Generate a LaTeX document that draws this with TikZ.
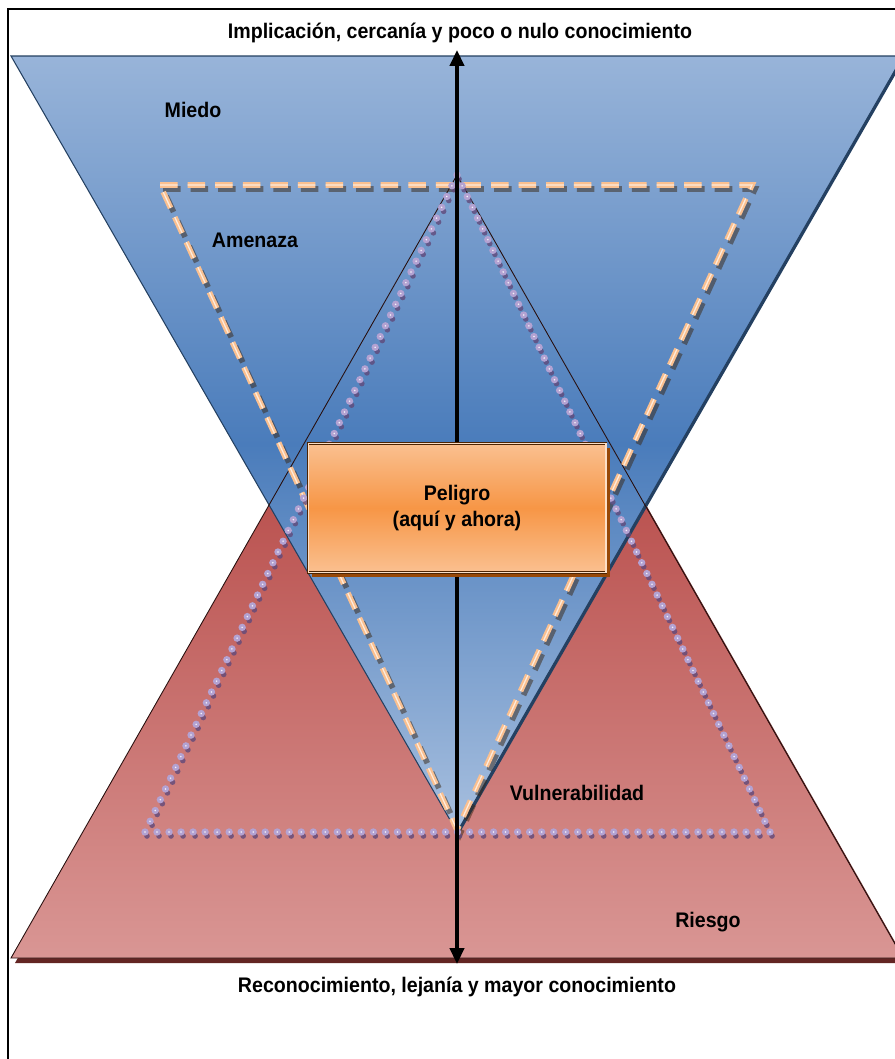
\documentclass[tikz,border=0pt]{standalone}
\usepackage{fontspec}
\setmainfont{Liberation Sans}[FakeStretch=0.93]
\usetikzlibrary{arrows.meta,positioning,shadows,calc}

\definecolor{azulclaro}{RGB}{152,180,217}
\definecolor{azuloscuro}{RGB}{74,124,187}
\definecolor{azulsombra}{RGB}{36,64,97}
\definecolor{rojoarriba}{RGB}{165,35,32}
\definecolor{rojoabajo}{RGB}{217,150,148}
\definecolor{rojosombra}{RGB}{99,37,35}
\definecolor{naranja}{RGB}{250,192,144}
\definecolor{naranjafuerte}{RGB}{247,150,70}
\definecolor{cafe}{RGB}{152,72,7}
\definecolor{lila}{RGB}{179,162,210}
\definecolor{lilasombra}{RGB}{96,73,122}

\tikzset{
  etiqueta/.style={font=\bfseries\fontsize{12}{14}\selectfont, inner sep=0pt},
  guiones/.style={naranja, line width=3.2pt, dash pattern=on 10pt off 5.7pt},
  caja/.style={align=center, minimum width=5.96cm, minimum height=2.58cm,
    top color=naranja, bottom color=naranja, middle color=naranjafuerte,
    draw=cafe!50!black, double=naranja!50!white, double distance=0.6pt,
    drop shadow={shadow xshift=0.08cm, shadow yshift=-0.09cm, fill=cafe, opacity=1}},
}

\begin{document}
\begin{tikzpicture}[x=0.02cm, y=-0.02cm, >=Stealth]
  \useasboundingbox (0,0) rectangle (895,1059);
  \clip (0,0) rectangle (895,1059);

  % Frame
  \draw[line width=0.6pt] (8,9) rectangle (920,1080);

  % Corners of the two big triangles
  \coordinate (rojoA) at (457,175);
  \coordinate (rojoB) at (11,958);
  \coordinate (rojoC) at (903,958);
  \coordinate (azulA) at (11,56);
  \coordinate (azulB) at (903,56);
  \coordinate (azulC) at (457,832);

  % Red triangle (riesgo)
  \fill[rojosombra] ([shift={(4,5)}]rojoA) -- ([shift={(4,5)}]rojoC) -- ([shift={(4,5)}]rojoB) -- cycle;
  \shade[top color=rojoarriba, bottom color=rojoabajo] (rojoA) -- (rojoC) -- (rojoB) -- cycle;

  % Blue triangle (miedo)
  \fill[azulsombra] ([shift={(2,2)}]azulA) -- ([shift={(2,2)}]azulB) -- ([shift={(2,2)}]azulC) -- cycle;
  \shade[top color=azulclaro, bottom color=azulclaro!85!white, middle color=azuloscuro]
    (azulA) -- (azulB) -- (azulC) -- cycle;
  \draw[azulsombra, line width=0.6pt] (azulA) -- (azulB) -- (azulC) -- cycle;
  \draw[rojosombra!40!black, line width=0.5pt] (rojoA) -- (rojoC) -- (rojoB) -- cycle;

  % Dashed triangle (amenaza)
  \begin{scope}[shift={(3,4)}]
    \draw[guiones, black!70!brown, opacity=0.5] (160,185) -- (752,185) -- (457,830) -- cycle;
  \end{scope}
  \draw[guiones] (160,185) -- (752,185) -- (457,830) -- cycle;
  \draw[guiones, naranja!30!white, line width=0.7pt] (160,185) -- (752,185) -- (457,830) -- cycle;

  % Dotted triangle (vulnerabilidad)
  \coordinate (lilaA) at (457,175);
  \coordinate (lilaB) at (770,832);
  \coordinate (lilaC) at (145,832);
  \foreach \p/\q/\n in {lilaA/lilaB/61, lilaB/lilaC/52, lilaC/lilaA/61}
    \foreach \i in {1,...,\n}
      \fill[lilasombra, opacity=0.8] ($(\p)!\i/\n!(\q)+(2,4)$) circle (1.6pt);
  \foreach \p/\q/\n in {lilaA/lilaB/61, lilaB/lilaC/52, lilaC/lilaA/61}
    \foreach \i in {1,...,\n} {
      \fill[lila] ($(\p)!\i/\n!(\q)$) circle (2.1pt);
      \fill[white!85!lila] ($(\p)!\i/\n!(\q)$) circle (0.5pt);
    }

  % Vertical arrows
  \coordinate (centro) at (457,508);
  \coordinate (arriba) at (457,50);
  \coordinate (abajo) at (457,964);
  \draw[-{Triangle[length=9pt,width=8pt]}, line width=2pt] (centro) -- (arriba);
  \draw[-{Triangle[length=9pt,width=8pt]}, line width=2pt] (centro) -- (abajo);

  % Central box
  \node[caja, etiqueta] (peligro) at (centro) {Peligro\\[1pt](aquí y ahora)};

  % Labels
  \node[etiqueta] (titulo) at (460,33) {Implicación, cercanía y poco o nulo conocimiento};
  \node[etiqueta] (miedo) at (193,110) {Miedo};
  \node[etiqueta] (amenaza) at (255,240) {Amenaza};
  \node[etiqueta] (vulnerabilidad) at (577,793) {Vulnerabilidad};
  \node[etiqueta] (riesgo) at (708,922) {Riesgo};
  \node[etiqueta] (pie) at (457,987) {Reconocimiento, lejanía y mayor conocimiento};
\end{tikzpicture}
\end{document}
